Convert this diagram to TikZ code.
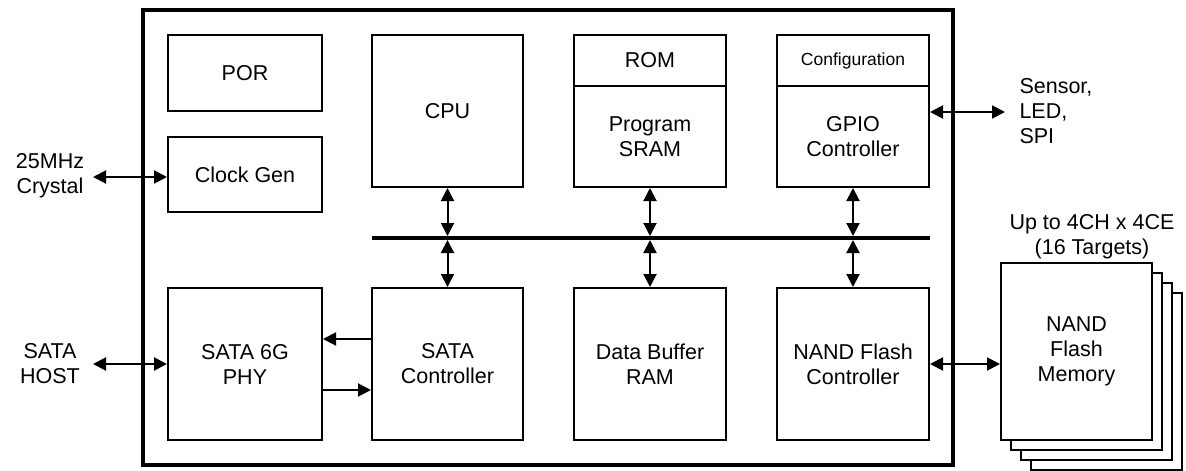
\documentclass[tikz,border=0pt]{standalone}
\usepackage{fontspec}
\setmainfont{Liberation Sans}
\usepackage{tikz}
\usetikzlibrary{arrows.meta, calc, positioning}

\tikzset{
    blk/.style={draw, line width=2pt, fill=white, align=center, inner sep=0pt},
    dbl/.style={{Triangle[length=13pt,width=13pt]}-{Triangle[length=13pt,width=13pt]}, line width=2pt},
    sgl/.style={-{Triangle[length=13pt,width=13pt]}, line width=2pt},
    lbl/.style={draw=none, align=center}
}

\begin{document}
\begin{tikzpicture}[x=1pt, y=-1pt, every node/.style={font=\fontsize{21.5}{25}\selectfont}]
                \useasboundingbox (0,0) rectangle (1186,471);

                \coordinate (A) at (0, 0);

                % chip outline
                \draw[line width=3.5pt] ($ (A) + (143,10) $) rectangle ($ (A) + (953,465) $);

                % upper row
                \node[blk, minimum width=154pt, minimum height=76pt] (por) at ($ (A) + (245,73) $) {POR};
                \node[blk, minimum width=154pt, minimum height=75pt] (clock) at ($ (A) + (245,174.5) $) {Clock Gen};
                \node[blk, minimum width=151pt, minimum height=152pt] (cpu) at ($ (A) + (447.5,111) $) {CPU};

                \node[blk, minimum width=152pt, minimum height=51pt] (rom) at ($ (A) + (650,60.5) $) {ROM};
                \node[blk, minimum width=152pt, minimum height=101pt, below=-2pt of rom] (sram) {Program\\SRAM};

                \node[blk, minimum width=152pt, minimum height=51pt, font=\fontsize{17.5}{21}\selectfont] (config) at ($ (A) + (853,60.5) $) {Configuration};
                \node[blk, minimum width=152pt, minimum height=101pt, below=-2pt of config] (gpio) {GPIO\\Controller};

                % lower row
                \node[blk, minimum width=154pt, minimum height=152pt] (phy) at ($ (A) + (245,364) $) {SATA 6G\\PHY};
                \node[blk, minimum width=151pt, minimum height=152pt] (satactl) at ($ (A) + (447.5,364) $) {SATA\\Controller};
                \node[blk, minimum width=152pt, minimum height=152pt] (buffer) at ($ (A) + (650,364) $) {Data Buffer\\RAM};
                \node[blk, minimum width=152pt, minimum height=152pt] (nandctl) at ($ (A) + (853,364) $) {NAND Flash\\Controller};

                % bus
                \coordinate (busL) at ($ (A) + (372,238) $);
                \coordinate (busR) at ($ (A) + (930,238) $);
                \draw[line width=4pt] (busL) -- (busR);

                \draw[dbl, shorten >=2pt] (cpu.south) -- (cpu.south |- busL);
                \draw[dbl, shorten >=2pt] (sram.south) -- (sram.south |- busL);
                \draw[dbl, shorten >=2pt] (gpio.south) -- (gpio.south |- busL);
                \draw[dbl, shorten <=2pt] (satactl.north |- busL) -- (satactl.north);
                \draw[dbl, shorten <=2pt] (buffer.north |- busL) -- (buffer.north);
                \draw[dbl, shorten <=2pt] (nandctl.north |- busL) -- (nandctl.north);

                % sata link
                \draw[sgl] ($ (satactl.west) + (0,-25) $) -- ($ (phy.east) + (0,-25) $);
                \draw[sgl] ($ (phy.east) + (0,26) $) -- ($ (satactl.west) + (0,26) $);

                % nand memory stack
                \foreach \d in {30,20,10} {
                    \draw[line width=2pt, fill=white] ($ (A) + (1001+\d,263+\d) $) rectangle ++(151,177);
                }
                \node[blk, minimum width=151pt, minimum height=177pt] (nandmem) at ($ (A) + (1076.5,351.5) $) {NAND\\Flash\\Memory};
                \node[lbl] (targets) at ($ (A) + (1092,237) $) {Up to 4CH x 4CE\\(16 Targets)};

                % outside signals
                \node[lbl] (crystal) at ($ (A) + (50,176) $) {25MHz\\Crystal};
                \node[lbl] (host) at ($ (A) + (50,364) $) {SATA\\HOST};
                \node[lbl, anchor=west, align=left] (sensor) at ($ (A) + (1016,111) $) {Sensor,\\LED,\\SPI};

                \coordinate (xtalpin) at ($ (A) + (93,177) $);
                \coordinate (hostpin) at ($ (A) + (93,364) $);
                \coordinate (gpiopin) at ($ (A) + (1005,112) $);

                \draw[dbl] (xtalpin) -- (clock.west |- xtalpin);
                \draw[dbl] (hostpin) -- (phy.west |- hostpin);
                \draw[dbl] (gpio.east |- gpiopin) -- (gpiopin);
                \draw[dbl] (nandctl.east) -- (nandmem.west |- nandctl.east);

            \end{tikzpicture}
\end{document}
